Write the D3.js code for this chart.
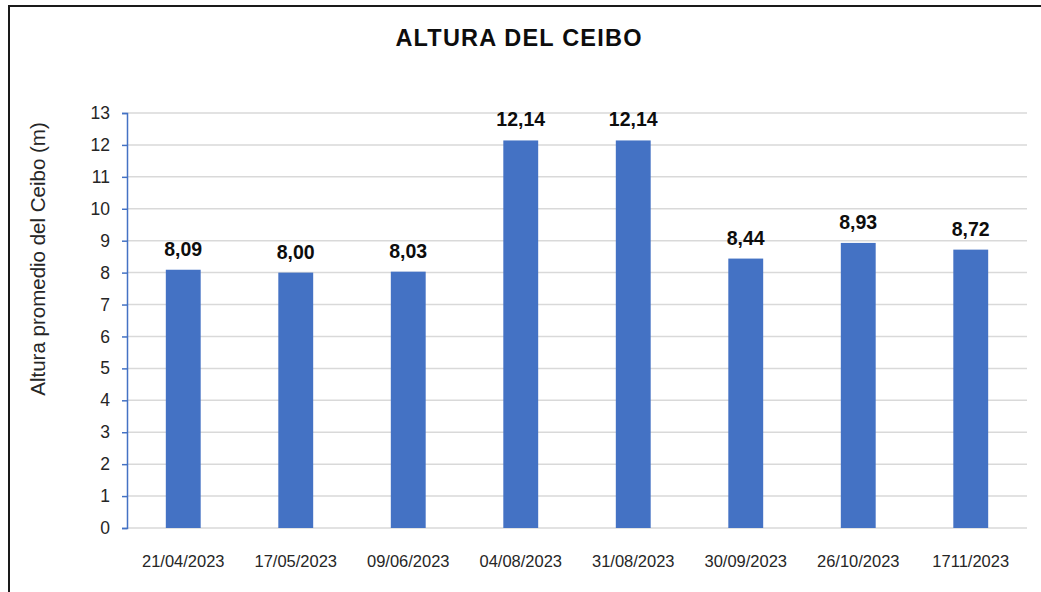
<!DOCTYPE html>
<html>
<head>
<meta charset="utf-8">
<script src="https://cdn.jsdelivr.net/npm/d3@7"></script>
<style>
  html, body { margin: 0; padding: 0; background: #fff; }
  svg { display: block; font-family: "Liberation Sans", Arial, sans-serif; }
</style>
</head>
<body>
<svg id="chart" width="1041" height="592"></svg>
<script>
const categories = ["21/04/2023", "17/05/2023", "09/06/2023", "04/08/2023", "31/08/2023", "30/09/2023", "26/10/2023", "1711/2023"];
const values = [8.09, 8.00, 8.03, 12.14, 12.14, 8.44, 8.93, 8.72];
const yTicks = [0,1,2,3,4,5,6,7,8,9,10,11,12,13];
const title = "ALTURA DEL CEIBO";
const yTitle = "Altura promedio del Ceibo (m)";

const svg = d3.select("#chart");
const m = { left: 127, right: 1027, top: 113, bottom: 528 };

// outer frame (only left and top edges visible)
svg.append("rect").attr("x", 9).attr("y", 6).attr("width", 1200).attr("height", 800)
  .attr("fill", "none").attr("stroke", "#1a1a1a").attr("stroke-width", 2);

const x = d3.scaleBand().domain(categories).range([m.left, m.right]).paddingInner(0.69).paddingOuter(0.345);
const y = d3.scaleLinear().domain([0, 13]).range([m.bottom, m.top]);

// gridlines
svg.append("g").selectAll("line").data(yTicks).join("line")
  .attr("x1", m.left).attr("x2", m.right)
  .attr("y1", d => y(d)).attr("y2", d => y(d))
  .attr("stroke", "#d9d9d9").attr("stroke-width", 1.5);

// bars
svg.append("g").selectAll("rect").data(values).join("rect")
  .attr("x", (d, i) => x(categories[i]))
  .attr("width", x.bandwidth())
  .attr("y", d => y(d))
  .attr("height", d => y(0) - y(d))
  .attr("fill", "#4472C4");

// y axis
const yAxis = d3.axisLeft(y).tickValues(yTicks).tickSize(5).tickPadding(12).tickFormat(d3.format("d"));
const gy = svg.append("g").attr("transform", `translate(${m.left},0)`).call(yAxis);
gy.select(".domain").attr("stroke", "#4472C4").attr("stroke-width", 1.5);
gy.selectAll(".tick line").attr("stroke", "#4472C4").attr("stroke-width", 1.5);
gy.selectAll(".tick text").attr("font-size", 17.5).attr("fill", "#262626")
  .attr("font-family", "Liberation Sans, Arial, sans-serif");

// x axis labels
const xAxis = d3.axisBottom(x).tickSize(0).tickPadding(27);
const gx = svg.append("g").attr("transform", `translate(0,${m.bottom})`).call(xAxis);
gx.select(".domain").remove();
gx.selectAll(".tick text").attr("font-size", 16.5).attr("fill", "#262626")
  .attr("font-family", "Liberation Sans, Arial, sans-serif");

// data labels
const fmt = v => d3.format(".2f")(v).replace(".", ",");
svg.append("g").selectAll("text").data(values).join("text")
  .attr("x", (d, i) => x(categories[i]) + x.bandwidth() / 2)
  .attr("y", d => y(d) - 14)
  .attr("text-anchor", "middle")
  .attr("font-size", 19.5).attr("font-weight", "bold").attr("fill", "#0d0d0d")
  .text(d => fmt(d));

// title
svg.append("text").attr("x", 519).attr("y", 46).attr("text-anchor", "middle")
  .attr("font-size", 23.5).attr("font-weight", "bold").attr("fill", "#0d0d0d")
  .attr("letter-spacing", 1.2)
  .text(title);

// y title
svg.append("text").attr("transform", "translate(45,259) rotate(-90)")
  .attr("text-anchor", "middle").attr("font-size", 20.5).attr("fill", "#262626")
  .text(yTitle);
</script>
</body>
</html>
